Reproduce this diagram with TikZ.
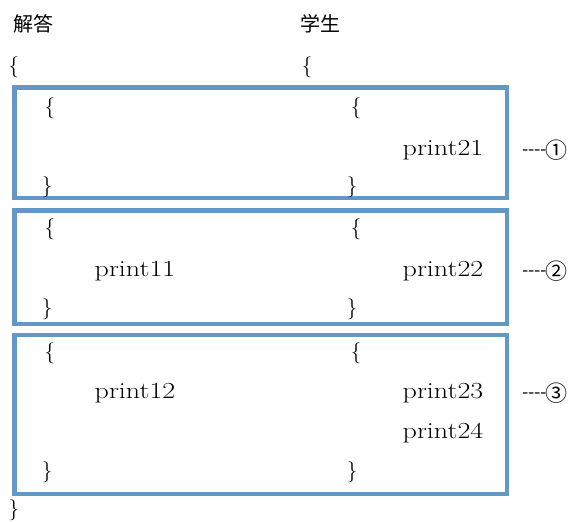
\documentclass[tikz,border=0pt]{standalone}
\usepackage{fontspec}
\newfontfamily\cjk{Noto Sans CJK SC}
\definecolor{boxblue}{RGB}{101,151,196}
\newcommand{\wide}[1]{\scalebox{1.22}[1]{#1}}
\newcommand{\dashnum}[1]{\cjk\fontsize{18}{20}\selectfont ----\hspace{-1pt}\raisebox{-2.5pt}{\fontsize{22}{26}\selectfont #1}}
\begin{document}
\begin{tikzpicture}[x=1pt,y=-1pt,
  txt/.style={inner sep=0pt,font=\fontsize{23}{26}\selectfont},
  brace/.style={inner sep=0pt,font=\fontsize{21}{26}\selectfont},
  head/.style={inner sep=0pt,font=\cjk\fontsize{20}{24}\selectfont},
  marklbl/.style={inner sep=0pt},
  blk/.style={draw=boxblue,line width=4.3pt}]
\useasboundingbox (0,0) rectangle (574,522);
% headers
\node[head] (h1) at (33,24) {解答};
\node[head] (h2) at (320,24) {学生};
\node[brace] (ob1) at (14,67) {\{};
\node[brace] (ob2) at (307,67) {\{};
% boxes
\draw[blk] (14.5,87.5) rectangle (507,198);
\draw[blk] (14.5,210.5) rectangle (507,324);
\draw[blk] (14.5,335) rectangle (507,494);
% box 1
\node[brace] (a1o) at (50,108) {\{};
\node[brace] (s1o) at (356,108) {\{};
\node[txt] (p21) at (443,150) {\wide{print21}};
\node[brace] (a1c) at (47,187) {\}};
\node[brace] (s1c) at (352,187) {\}};
% box 2
\node[brace] (a2o) at (50,229) {\{};
\node[brace] (s2o) at (356,229) {\{};
\node[txt] (p11) at (135,271) {\wide{print11}};
\node[txt] (p22) at (443,271) {\wide{print22}};
\node[brace] (a2c) at (47,309) {\}};
\node[brace] (s2c) at (352,309) {\}};
% box 3
\node[brace] (a3o) at (50,353) {\{};
\node[brace] (s3o) at (356,353) {\{};
\node[txt] (p12) at (135,393) {\wide{print12}};
\node[txt] (p23) at (443,393) {\wide{print23}};
\node[txt] (p24) at (443,433) {\wide{print24}};
\node[brace] (a3c) at (47,472) {\}};
\node[brace] (s3c) at (352,472) {\}};
% closing
\node[brace] (cb) at (14,510) {\}};
% labels
\node[marklbl] (m1) at (545,150) {\dashnum{①}};
\node[marklbl] (m2) at (545,271) {\dashnum{②}};
\node[marklbl] (m3) at (545,393) {\dashnum{③}};
\end{tikzpicture}
\end{document}
